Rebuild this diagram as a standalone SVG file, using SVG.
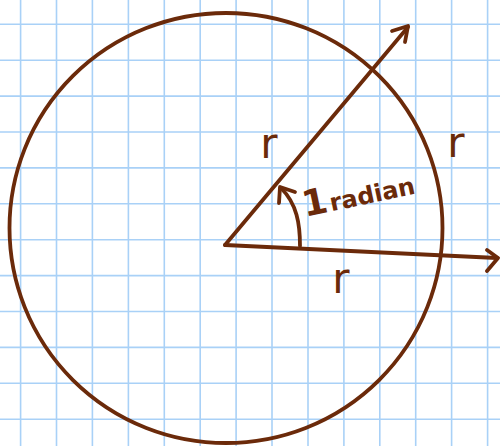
<svg xmlns="http://www.w3.org/2000/svg" width="500" height="446" viewBox="0 0 500 446">
<style>
.grid line{stroke:#a9d1f7;stroke-width:1.6}
.ink{fill:none;stroke:#6b2a0a;stroke-width:3.8;stroke-linecap:round;stroke-linejoin:round}
.lbl{fill:#6b2a0a;font-family:"DejaVu Sans",sans-serif}
</style>
<rect width="500" height="446" fill="#ffffff"/>
<g class="grid">
<line x1="20.6" y1="0" x2="20.6" y2="446"/>
<line x1="56.5" y1="0" x2="56.5" y2="446"/>
<line x1="92.4" y1="0" x2="92.4" y2="446"/>
<line x1="128.4" y1="0" x2="128.4" y2="446"/>
<line x1="164.3" y1="0" x2="164.3" y2="446"/>
<line x1="200.2" y1="0" x2="200.2" y2="446"/>
<line x1="236.1" y1="0" x2="236.1" y2="446"/>
<line x1="272.0" y1="0" x2="272.0" y2="446"/>
<line x1="308.0" y1="0" x2="308.0" y2="446"/>
<line x1="343.9" y1="0" x2="343.9" y2="446"/>
<line x1="379.8" y1="0" x2="379.8" y2="446"/>
<line x1="415.7" y1="0" x2="415.7" y2="446"/>
<line x1="451.6" y1="0" x2="451.6" y2="446"/>
<line x1="487.6" y1="0" x2="487.6" y2="446"/>
<line x1="0" y1="24.3" x2="500" y2="24.3"/>
<line x1="0" y1="60.2" x2="500" y2="60.2"/>
<line x1="0" y1="96.1" x2="500" y2="96.1"/>
<line x1="0" y1="132.0" x2="500" y2="132.0"/>
<line x1="0" y1="167.9" x2="500" y2="167.9"/>
<line x1="0" y1="203.8" x2="500" y2="203.8"/>
<line x1="0" y1="239.7" x2="500" y2="239.7"/>
<line x1="0" y1="275.6" x2="500" y2="275.6"/>
<line x1="0" y1="311.5" x2="500" y2="311.5"/>
<line x1="0" y1="347.4" x2="500" y2="347.4"/>
<line x1="0" y1="383.3" x2="500" y2="383.3"/>
<line x1="0" y1="419.2" x2="500" y2="419.2"/>
</g>
<g id="circle">
<ellipse class="ink" cx="226" cy="228" rx="216.5" ry="215"/>
</g>
<g id="connectors">
<path class="ink" d="M225,245 L408,27"/>
<polyline class="ink" points="392,31 408,26 405,42"/>
<path class="ink" d="M225,245 L497,258"/>
<polyline class="ink" points="487,250 498,258 487,271"/>
<path class="ink" d="M300,246 C300,224 297,204 281,188"/>
<polyline class="ink" points="279,203 280,187 295,192"/>
</g>
<g id="labels">
<text class="lbl" x="269" y="158" font-size="42" text-anchor="middle">r</text>
<text class="lbl" x="456" y="157" font-size="42" text-anchor="middle">r</text>
<text class="lbl" x="341" y="293" font-size="42" text-anchor="middle">r</text>
<text class="lbl" font-weight="bold" transform="translate(305,217) rotate(-12)"><tspan font-size="36">1</tspan><tspan font-size="24" dx="2">radian</tspan></text>
</g>
</svg>
